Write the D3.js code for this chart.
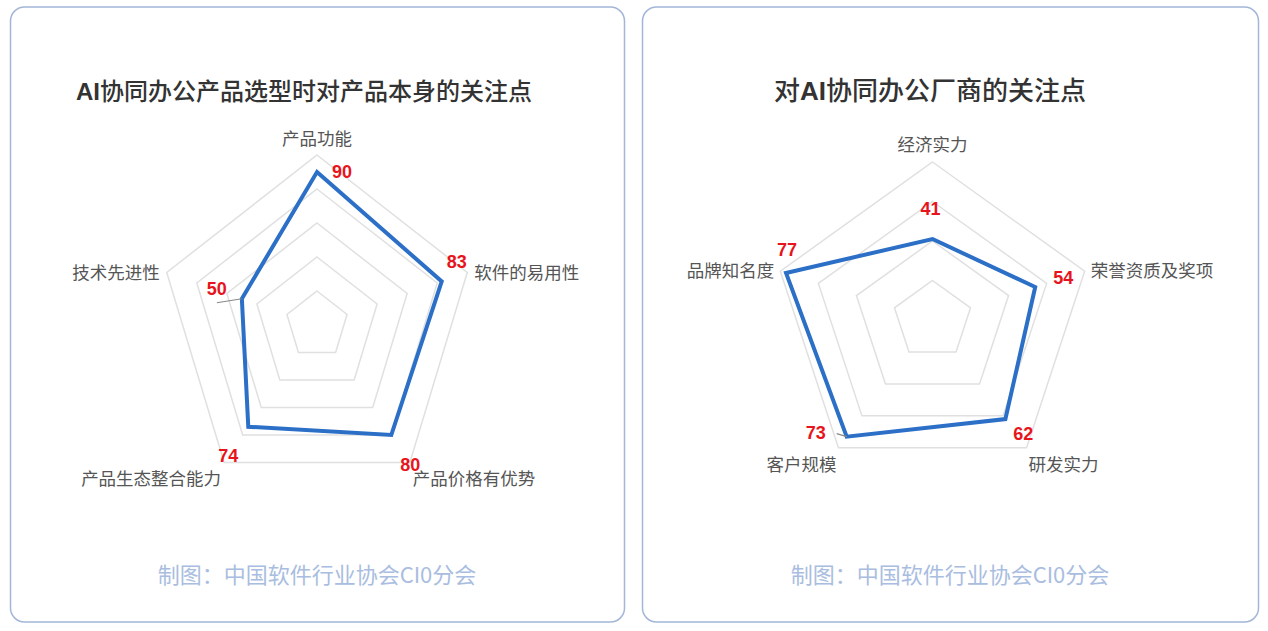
<!DOCTYPE html>
<html>
<head>
<meta charset="utf-8">
<script src="https://cdn.jsdelivr.net/npm/d3@7/dist/d3.min.js"></script>
<style>
  body { margin: 0; background: #fff; }
  .card { fill: #fff; stroke: #a3b6d8; stroke-width: 1.5; }
  .ring { fill: none; stroke: #e0e0e0; stroke-width: 1.5; }
  .area { fill: none; stroke: #2b6fc7; stroke-width: 4; stroke-linejoin: miter; }
  .title { font-family: "Noto Sans CJK SC", sans-serif; font-weight: 500; fill: #333; }
  .title .latin { font-family: "Liberation Sans", Arial, sans-serif; font-weight: bold; }
  .axislabel { font-family: "Noto Sans CJK SC", sans-serif; font-size: 17.5px; fill: #555; }
  .value { font-family: "Liberation Sans", Arial, sans-serif; font-size: 18px; font-weight: bold; fill: #e8141b; }
  .leader { stroke: #888; stroke-width: 1.2; }
  .footer { font-family: "Noto Sans CJK SC", sans-serif; font-size: 22px; fill: #a9bde0; }
</style>
</head>
<body>
<div id="chart"></div>
<script>

// left radar: product focus points (clockwise from top)
var leftAxes = ["产品功能", "软件的易用性", "产品价格有优势", "产品生态整合能力", "技术先进性"];
var leftValues = [90, 83, 80, 74, 50];
var leftTicks = [20, 40, 60, 80, 100];

// right radar: vendor focus points
var rightAxes = ["经济实力", "荣誉资质及奖项", "研发实力", "客户规模", "品牌知名度"];
var rightValues = [41, 54, 62, 73, 77];
var rightTicks = [20, 40, 60, 80];

var footerText = "制图：中国软件行业协会CI0分会";

var W = 1268, H = 631;

var svg = d3.select("#chart")
    .append("svg")
    .attr("width", W)
    .attr("height", H);

// cards
var cards = [
    {x: 10.5, y: 7, w: 614, h: 615},
    {x: 642.5, y: 7, w: 616, h: 615}
];
svg.selectAll(".card")
    .data(cards).enter()
    .append("rect")
        .attr("class", "card")
        .attr("x", function(d) { return d.x; })
        .attr("y", function(d) { return d.y; })
        .attr("width", function(d) { return d.w; })
        .attr("height", function(d) { return d.h; })
        .attr("rx", 14);

function drawRadar(params) {

    var g = svg.append("g");
    var n = params.axes.length;
    var maxV = params.ticks[params.ticks.length - 1];

    // radius scales, slightly different horizontally/vertically (stretched picture)
    var rx = d3.scaleLinear().domain([0, maxV]).range([0, params.rx]);
    var ry = d3.scaleLinear().domain([0, maxV]).range([0, params.ry]);
    var angle = d3.scaleLinear().domain([0, n]).range([-Math.PI / 2, 1.5 * Math.PI]);

    function px(i, v) { return params.cx + Math.cos(angle(i)) * rx(v); }
    function py(i, v) { return params.cy + Math.sin(angle(i)) * ry(v); }

    var closed = d3.line().curve(d3.curveLinearClosed);

    // grid rings
    g.selectAll(".ring")
        .data(params.ticks).enter()
        .append("path")
            .attr("class", "ring")
            .attr("d", function(t) {
                return closed(d3.range(n).map(function(i) { return [px(i, t), py(i, t)]; }));
            });

    // data polygon
    g.append("path")
        .attr("class", "area")
        .attr("d", closed(params.values.map(function(v, i) { return [px(i, v), py(i, v)]; })));

    // axis labels
    g.selectAll(".axislabel")
        .data(params.axes).enter()
        .append("text")
            .attr("class", "axislabel")
            .attr("x", function(d, i) {
                var c = Math.cos(angle(i));
                var x = px(i, maxV);
                if (Math.abs(c) < 0.1) return x;
                if (Math.abs(c) > 0.9) return x + (c > 0 ? params.sidePad : -params.sidePad);
                return x + (c > 0 ? params.bottomPad : -params.bottomPad);
            })
            .attr("y", function(d, i) {
                var s = Math.sin(angle(i));
                var y = py(i, maxV);
                if (s < -0.9) return y - params.topPad;
                if (s > 0.5) return y + params.bottomDrop;
                return y;
            })
            .attr("dy", "0.35em")
            .attr("text-anchor", function(d, i) {
                var c = Math.cos(angle(i));
                if (Math.abs(c) < 0.1) return "middle";
                return c > 0 ? "start" : "end";
            })
            .text(function(d) { return d; });

    // leader lines
    params.leaders.forEach(function(l, i) {
        if (!l) return;
        g.append("line")
            .attr("class", "leader")
            .attr("x1", px(i, params.values[i]))
            .attr("y1", py(i, params.values[i]))
            .attr("x2", px(i, params.values[i]) + l[0])
            .attr("y2", py(i, params.values[i]) + l[1]);
    });

    // value labels
    g.selectAll(".value")
        .data(params.values).enter()
        .append("text")
            .attr("class", "value")
            .attr("text-anchor", "middle")
            .attr("x", function(v, i) { return px(i, v) + params.nudge[i][0]; })
            .attr("y", function(v, i) { return py(i, v) + params.nudge[i][1]; })
            .attr("dy", "0.35em")
            .text(function(v) { return v; });

    // title
    var title = g.append("text")
        .attr("class", "title")
        .attr("x", params.titleX)
        .attr("y", 100)
        .attr("font-size", params.titleSize)
        .attr("text-anchor", "middle");
    params.title.forEach(function(part) {
        title.append("tspan")
            .attr("class", /^[A-Za-z]+$/.test(part) ? "latin" : null)
            .text(part);
    });

    // footer
    g.append("text")
        .attr("class", "footer")
        .attr("x", params.footerX)
        .attr("y", 583)
        .attr("text-anchor", "middle")
        .text(footerText);
}

drawRadar({
    axes: leftAxes, values: leftValues, ticks: leftTicks,
    cx: 317, cy: 325, rx: 158, ry: 170,
    topPad: 16, sidePad: 7, bottomPad: 3, bottomDrop: 16,
    nudge: [[25, 0], [15, -20], [19, 30], [-20, 29], [-25, -10]],
    leaders: [null, null, null, null, [-25, 4]],
    title: ["AI", "协同办公产品选型时对产品本身的关注点"],
    titleX: 304, titleSize: 24, footerX: 317
});

drawRadar({
    axes: rightAxes, values: rightValues, ticks: rightTicks,
    cx: 932.5, cy: 320, rx: 160, ry: 158,
    topPad: 17, sidePad: 6, bottomPad: 2, bottomDrop: 17,
    nudge: [[-2, -30], [28, -9], [18, 15], [-31, -4], [1, -23]],
    leaders: [null, null, null, [-10, -3], null],
    title: ["对", "AI", "协同办公厂商的关注点"],
    titleX: 930, titleSize: 26, footerX: 950
});

</script>
</body>
</html>
